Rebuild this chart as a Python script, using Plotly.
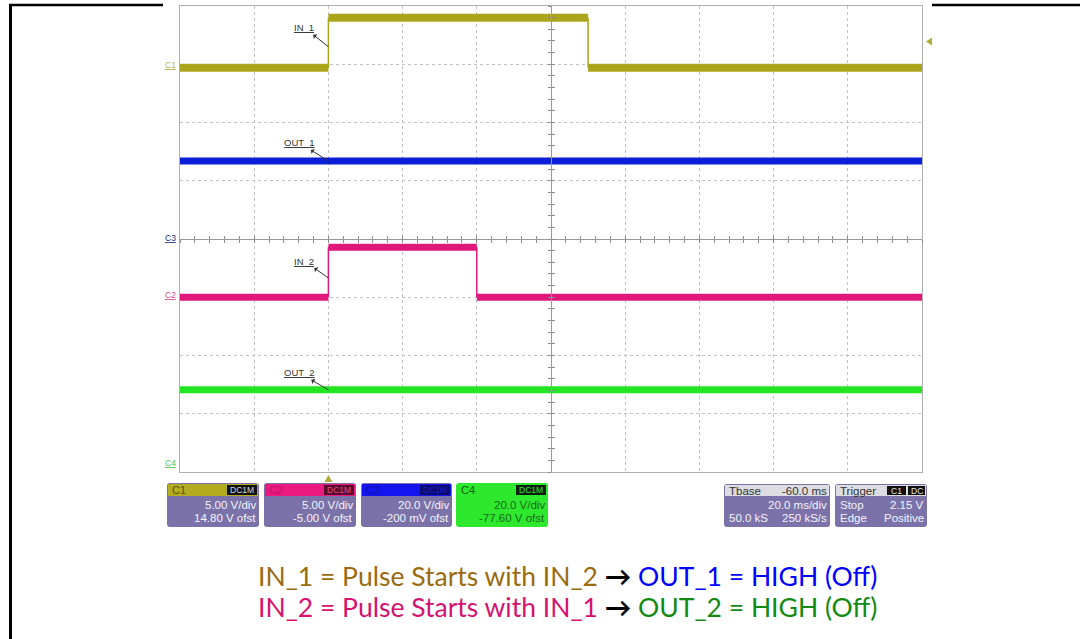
import plotly.graph_objects as go

W, H = 1080, 639


def px(x):
    return x / W


def py(y):
    return 1 - y / H


# ---------------- data ----------------
# time axis (ms): 10 divisions of 20 ms, trigger at t = 0
T_RANGE = [-40, 160]
T_DIV = 20
T_MINOR = 4

# channel settings: V/div and offset (V)
C1_SCALE, C1_OFST = 5.0, 14.80
C2_SCALE, C2_OFST = 5.0, -5.00
C3_SCALE, C3_OFST = 20.0, -0.200
C4_SCALE, C4_OFST = 20.0, -77.60

# waveform breakpoints (ms) and levels (V) between them
IN1_T = [-40, 0, 70, 160]
IN1_V = [-0.1, 4.2, -0.1]
OUT1_T = [-40, 160]
OUT1_V = [27.0]
IN2_T = [-40, 0, 40, 160]
IN2_V = [0.0, 4.3, 0.0]
OUT2_T = [-40, 160]
OUT2_V = [25.8]

TRIG_TIME = 0
TRIG_LEVEL = 2.15

LABELS = ["IN_1", "OUT_1", "IN_2", "OUT_2"]

COL_C1 = "#aba51c"
COL_C2 = "#e0187b"
COL_C3 = "#0c1ed6"
COL_C4 = "#23e623"

X0, X1, Y0, Y1 = 180, 922, 6, 472  # plot area (px)


def ch_range(scale, ofst):
    return [-ofst - 4 * scale, -ofst + 4 * scale]


def segs(ts, vs):
    x, y, ex, ey = [], [], [], []
    for i, v in enumerate(vs):
        x += [ts[i], ts[i + 1], None]
        y += [v, v, None]
    for i in range(1, len(vs)):
        ex += [ts[i], ts[i], None]
        ey += [vs[i - 1], vs[i], None]
    return x, y, ex, ey


fig = go.Figure()

for ts, vs, col, ax, w in [
    (IN1_T, IN1_V, COL_C1, "y", 8),
    (OUT1_T, OUT1_V, COL_C3, "y3", 7),
    (IN2_T, IN2_V, COL_C2, "y2", 7),
    (OUT2_T, OUT2_V, COL_C4, "y4", 7),
]:
    x, y, ex, ey = segs(ts, vs)
    fig.add_trace(go.Scatter(x=x, y=y, yaxis=ax, mode="lines",
                             line=dict(color=col, width=w), hoverinfo="skip",
                             showlegend=False))
    if ex:
        fig.add_trace(go.Scatter(x=ex, y=ey, yaxis=ax, mode="lines",
                                 line=dict(color=col, width=1.5), hoverinfo="skip",
                                 showlegend=False))

# dummy traces so the tick-only centre axes get drawn
for xa, ya in [("x2", "y"), ("x3", "y"), ("x", "y5"), ("x", "y6")]:
    fig.add_trace(go.Scatter(x=[None], y=[None], xaxis=xa, yaxis=ya,
                             showlegend=False, hoverinfo="skip"))

xdom = [px(X0), px(X1)]
ydom = [py(Y1), py(Y0)]
ymid = (ydom[0] + ydom[1]) / 2
xmid = (xdom[0] + xdom[1]) / 2
GRID = "#c2c2c2"
BORDER = "#b0b0b0"

r1 = ch_range(C1_SCALE, C1_OFST)
common_hidden = dict(showticklabels=False, zeroline=False, showgrid=False)

fig.update_layout(
    width=W, height=H, margin=dict(l=0, r=0, t=0, b=0),
    paper_bgcolor="white", plot_bgcolor="white", showlegend=False,
    xaxis=dict(domain=xdom, range=T_RANGE, tick0=T_RANGE[0], dtick=T_DIV,
               showgrid=True, gridcolor=GRID, griddash="dot", gridwidth=1,
               showline=True, mirror=True, linecolor=BORDER, linewidth=1,
               showticklabels=False, zeroline=False, ticks=""),
    yaxis=dict(domain=ydom, range=r1, tick0=r1[0], dtick=C1_SCALE,
               showgrid=True, gridcolor=GRID, griddash="dot", gridwidth=1,
               showline=True, mirror=True, linecolor=BORDER, linewidth=1,
               showticklabels=False, zeroline=False, ticks=""),
    yaxis2=dict(overlaying="y", anchor="x", range=ch_range(C2_SCALE, C2_OFST), visible=False),
    yaxis3=dict(overlaying="y", anchor="x", range=ch_range(C3_SCALE, C3_OFST), visible=False),
    yaxis4=dict(overlaying="y", anchor="x", range=ch_range(C4_SCALE, C4_OFST), visible=False),
    xaxis2=dict(overlaying="x", anchor="free", position=ymid, range=T_RANGE,
                tick0=T_RANGE[0], dtick=T_MINOR, ticks="inside", ticklen=3,
                tickcolor="#8a8a8a", showline=True, linecolor="#9a9a9a", **common_hidden),
    xaxis3=dict(overlaying="x", anchor="free", position=ymid, range=T_RANGE,
                tick0=T_RANGE[0], dtick=T_MINOR, ticks="outside", ticklen=3,
                tickcolor="#8a8a8a", showline=False, **common_hidden),
    yaxis5=dict(overlaying="y", anchor="free", position=xmid, range=r1,
                tick0=r1[0], dtick=C1_SCALE / 5, ticks="inside", ticklen=3,
                tickcolor="#8a8a8a", showline=True, linecolor="#9a9a9a", **common_hidden),
    yaxis6=dict(overlaying="y", anchor="free", position=xmid, range=r1,
                tick0=r1[0], dtick=C1_SCALE / 5, ticks="outside", ticklen=3,
                tickcolor="#8a8a8a", showline=False, **common_hidden),
)

ann = []
shapes = []

# ---- waveform labels with arrows ----
for lab, yref, yv, axo, ayo in [
    (LABELS[0], "y", 1.7, -24, -19),
    (LABELS[1], "y3", OUT1_V[0], -29, -18),
    (LABELS[2], "y2", 1.65, -24, -17),
    (LABELS[3], "y4", OUT2_V[0], -29, -17),
]:
    ann.append(dict(x=TRIG_TIME, y=yv, xref="x", yref=yref, text="<u>%s</u>" % lab,
                    showarrow=True, ax=axo, ay=ayo, arrowside="start", arrowhead=2,
                    arrowsize=0.7, arrowwidth=1, arrowcolor="#333333",
                    font=dict(family="Liberation Sans", size=9.5, color="#333333")))

# ---- channel ground markers on the left ----
for name, col, yref in [("C1", "#b8b040", "y"), ("C2", "#d0488a", "y2"),
                        ("C3", "#1c2e7a", "y3"), ("C4", "#50c850", "y4")]:
    ann.append(dict(x=px(X0 - 2), y=0, xref="paper", yref=yref, text="<u>%s</u>" % name,
                    showarrow=False, xanchor="right", yanchor="middle", yshift=2,
                    font=dict(family="Liberation Sans", size=8.5, color=col)))

# ---- trigger markers (small filled triangles) ----
TRI_COL = "#b0a838"
shapes.append(dict(type="path", xref="paper", yref="y", xsizemode="pixel", ysizemode="pixel",
                   xanchor=px(X1), yanchor=TRIG_LEVEL,
                   path="M 4,0 L 10,4 L 10,-4 Z", fillcolor=TRI_COL,
                   line=dict(width=0)))
shapes.append(dict(type="path", xref="x", yref="paper", xsizemode="pixel", ysizemode="pixel",
                   xanchor=TRIG_TIME, yanchor=py(Y1),
                   path="M -4,-10 L 4,-10 L 0,-3 Z", fillcolor=TRI_COL,
                   line=dict(width=0)))


# ---- info boxes ----
def rrect(x0, y0, x1, y1, fill, r=3):
    rx, ry = r / W, r / H
    a0, a1 = px(x0), px(x1)
    b0, b1 = py(y1), py(y0)  # bottom, top in paper
    path = (f"M {a0+rx},{b1} L {a1-rx},{b1} Q {a1},{b1} {a1},{b1-ry} "
            f"L {a1},{b0+ry} Q {a1},{b0} {a1-rx},{b0} L {a0+rx},{b0} "
            f"Q {a0},{b0} {a0},{b0+ry} L {a0},{b1-ry} Q {a0},{b1} {a0+rx},{b1} Z")
    shapes.append(dict(type="path", path=path, xref="paper", yref="paper",
                       fillcolor=fill, line=dict(width=0), layer="above"))


def rect(x0, y0, x1, y1, fill):
    shapes.append(dict(type="rect", x0=px(x0), x1=px(x1), y0=py(y1), y1=py(y0),
                       xref="paper", yref="paper", fillcolor=fill,
                       line=dict(width=0), layer="above"))


def txt(x, y, s, col, anchor="right", size=11.5):
    ann.append(dict(x=px(x), y=py(y), xref="paper", yref="paper", text=s,
                    showarrow=False, xanchor=anchor, yanchor="middle",
                    font=dict(family="Liberation Sans", size=size, color=col)))


BODY = "#7b72aa"
BODY_TXT = "#f4f4fa"
BOX_TOP, HDR_BOT, BOX_BOT = 483, 496, 527

channels = [
    ("C1", 167, 259, "#b3ab20", "#5a5410", "#111111", "#d8d8d8", BODY, BODY_TXT,
     "%.2f V/div" % C1_SCALE, "%.2f V ofst" % C1_OFST),
    ("C2", 264, 356, "#ea1a80", "#c4106a", "#5a0c2c", "#e04a90", BODY, BODY_TXT,
     "%.2f V/div" % C2_SCALE, "%.2f V ofst" % C2_OFST),
    ("C3", 361, 452, "#1414ee", "#1010b0", "#0a0a70", "#1a1ad0", BODY, BODY_TXT,
     "%.1f V/div" % C3_SCALE, "%.0f mV ofst" % (C3_OFST * 1000)),
    ("C4", 456, 548, "#2ee82e", "#106010", "#0e1e0e", "#30e830", "#2ee82e", "#186818",
     "%.1f V/div" % C4_SCALE, "%.2f V ofst" % C4_OFST),
]
for name, xa, xb, hdr, lab_col, badge, badge_txt, body, btxt, l1, l2 in channels:
    rrect(xa, BOX_TOP, xb, BOX_BOT, body)
    rect(xa + 1, BOX_TOP + 1, xb - 1, HDR_BOT, hdr)
    rect(xb - 32, BOX_TOP + 2, xb - 2, HDR_BOT - 1, badge)
    txt(xa + 3, (BOX_TOP + HDR_BOT) / 2 + 0.5, name, lab_col, "left", 11)
    txt(xb - 3, (BOX_TOP + HDR_BOT) / 2 + 0.5, "DC1M", badge_txt, "right", 8.5)
    txt(xb - 1, 505, l1, btxt)
    txt(xb - 1, 518, l2, btxt)

# timebase box
HDR_GRAY = "#dcdce2"
rrect(724, 484, 830, 527, BODY)
rect(725, 485, 829, 496, HDR_GRAY)
txt(727, 490.5, "Tbase", "#333333", "left")
txt(829, 490.5, "-60.0 ms", "#333333", "right")
txt(829, 505, "%.1f ms/div" % T_DIV, BODY_TXT)
txt(727, 518, "50.0 kS", BODY_TXT, "left")
txt(829, 518, "250 kS/s", BODY_TXT)

# trigger box
rrect(835, 484, 927, 527, BODY)
rect(836, 485, 926, 496, HDR_GRAY)
txt(838, 490.5, "Trigger", "#333333", "left")
rect(887, 486, 906, 495, "#111111")
rect(908, 486, 925, 495, "#111111")
txt(896.5, 490.5, "C1", "#e8e8e8", "center", 8.5)
txt(916.5, 490.5, "DC", "#e8e8e8", "center", 8.5)
txt(838, 505, "Stop", BODY_TXT, "left")
txt(926, 505, "%.2f V" % TRIG_LEVEL, BODY_TXT)
txt(838, 518, "Edge", BODY_TXT, "left")
txt(926, 518, "Positive", BODY_TXT)

# ---- caption ----
CAP_FONT = dict(family="Lato", size=26.5)
line1 = ('<span style="color:#9a6b0e">IN_1 = Pulse Starts with IN_2</span> '
         '<span style="color:#000000"><b>→</b></span> '
         '<span style="color:#0000ff">OUT_1 = HIGH (Off)</span>')
line2 = ('<span style="color:#d5126f">IN_2 = Pulse Starts with IN_1</span> '
         '<span style="color:#000000"><b>→</b></span> '
         '<span style="color:#138a13">OUT_2 = HIGH (Off)</span>')
ann.append(dict(x=px(567), y=py(576), xref="paper", yref="paper", text=line1,
                showarrow=False, xanchor="center", yanchor="middle", font=CAP_FONT))
ann.append(dict(x=px(567), y=py(607), xref="paper", yref="paper", text=line2,
                showarrow=False, xanchor="center", yanchor="middle", font=CAP_FONT))

# ---- page frame lines ----
shapes.append(dict(type="line", xref="paper", yref="paper", x0=px(10.5), x1=px(10.5),
                   y0=py(4), y1=py(639), line=dict(color="black", width=3)))
shapes.append(dict(type="line", xref="paper", yref="paper", x0=px(9), x1=px(163),
                   y0=py(5), y1=py(5), line=dict(color="black", width=2.5)))
shapes.append(dict(type="line", xref="paper", yref="paper", x0=px(932), x1=px(1080),
                   y0=py(5), y1=py(5), line=dict(color="black", width=2.5)))

fig.update_layout(annotations=ann, shapes=shapes)
fig.write_html("out.html", config={"displayModeBar": False},
               post_script="document.body.style.margin='0px';document.body.style.overflow='hidden';")
